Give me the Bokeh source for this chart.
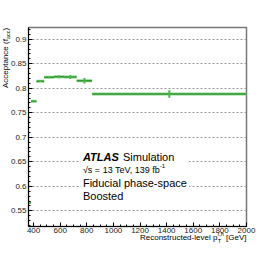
from bokeh.plotting import figure
from bokeh.models import Range1d, FixedTicker, SingleIntervalTicker, Label, BoxAnnotation
from bokeh.embed import file_html
from bokeh.resources import INLINE
import math

# ---- data ----
bin_edges = [355, 381, 422, 480, 554, 629, 724, 840, 2000]
acceptance = [0.567, 0.7735, 0.8143, 0.8224, 0.8237, 0.8230, 0.8155, 0.7884]
stat_err = [0.003, 0.002, 0.0015, 0.002, 0.003, 0.004, 0.0055, 0.0075]
y_ticks = [0.55, 0.6, 0.65, 0.7, 0.75, 0.8, 0.85, 0.9]
y_minor = [round(0.52 + 0.01 * i, 2) for i in range(41)]

x_lo = bin_edges[:-1]
x_hi = bin_edges[1:]
x_mid = [(a + b) / 2 for a, b in zip(x_lo, x_hi)]
y_dn = [v - e for v, e in zip(acceptance, stat_err)]
y_up = [v + e for v, e in zip(acceptance, stat_err)]

X0, X1 = 362, 2000
Y0, Y1 = 0.518, 0.924

# frame: page x 28..246, page y 27..226
p = figure(width=274, height=266, output_backend="svg", toolbar_location=None,
           x_range=Range1d(X0, X1), y_range=Range1d(Y0, Y1),
           min_border_left=28, min_border_right=28, min_border_top=27, min_border_bottom=40)
p.background_fill_color = "white"
p.border_fill_color = "white"
p.outline_line_color = "#777777"
p.outline_line_width = 1.5

FONT = "Liberation Sans"

for ax in (p.xaxis[0], p.yaxis[0]):
    ax.axis_line_color = "black"
    ax.axis_line_width = 1
    ax.major_tick_in = 4
    ax.major_tick_out = 0
    ax.minor_tick_in = 2
    ax.minor_tick_out = 0
    ax.major_tick_line_color = "black"
    ax.minor_tick_line_color = "black"
    ax.major_label_text_font = FONT
    ax.major_label_text_font_size = "8px"
    ax.major_label_text_color = "#222222"

p.xaxis.ticker = SingleIntervalTicker(interval=200, num_minor_ticks=4)
p.xaxis.major_label_standoff = 1
p.yaxis.ticker = FixedTicker(ticks=y_ticks, minor_ticks=y_minor)
p.yaxis.major_label_standoff = 2

p.xgrid.visible = False
p.ygrid.grid_line_color = "#9a9a9a"
p.ygrid.grid_line_dash = "2 2"
p.ygrid.grid_line_width = 1

# data: horizontal bin lines and vertical error bars
p.segment(x0=x_lo, x1=x_hi, y0=acceptance, y1=acceptance, line_color="#8fd18f", line_width=3)
p.segment(x0=x_lo, x1=x_hi, y0=acceptance, y1=acceptance, line_color="#2f9a2f", line_width=1.5)
p.segment(x0=x_mid, x1=x_mid, y0=y_dn, y1=y_up, line_color="#4cb84c", line_width=2)

# white box behind the text block
p.add_layout(BoxAnnotation(left=755, right=1568, bottom=0.5643, top=0.6888,
                           fill_color="white", fill_alpha=1.0, line_alpha=0))

def lab(x, y, text, size, style="normal", align="left", baseline="middle", angle=0.0, place="center"):
    p.add_layout(Label(x=x, y=y, text=text, text_font=FONT,
                       text_font_size=size, text_font_style=style, text_align=align,
                       text_baseline=baseline, text_color="black", angle=angle), place)

lab(771, 0.6608, "ATLAS", "11px", style="bold italic")
lab(1072, 0.6608, "Simulation", "11px")
lab(771, 0.6337, "\u221as = 13 TeV, 139 fb", "9px")
lab(1348, 0.6409, "-1", "6px")
lab(771, 0.6058, "Fiducial phase-space", "11px")
lab(771, 0.5807, "Boosted", "11px")

# axis titles: placed in side panels (with spare room) so they are not clipped
lab(2000, 0.4955, "[GeV]", "8px", align="right", place="below")
lab(1781, 0.4955, "Reconstructed-level p", "8px", align="right", place="below")
lab(1784, 0.5025, "t,h", "5.5px", place="above")
lab(1784, 0.4890, "T", "5.5px", place="above")

lab(192, 0.9234, ")", "8px", align="right", angle=math.pi / 2, place="right")
lab(207, 0.9180, "acc", "5.5px", align="right", angle=math.pi / 2, place="right")
lab(192, 0.9003, "Acceptance (f", "8px", align="right", angle=math.pi / 2, place="right")

open("out.html", "w").write(file_html(p, INLINE))
